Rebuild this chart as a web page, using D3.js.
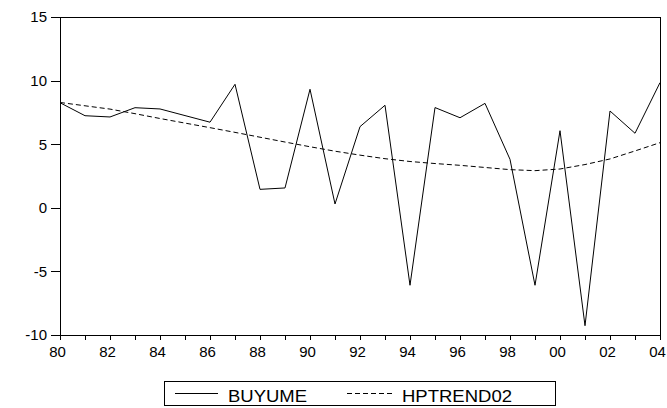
<!DOCTYPE html>
<html>
<head>
<meta charset="utf-8">
<script src="https://cdn.jsdelivr.net/npm/d3@7"></script>
<style>
  html, body { margin: 0; padding: 0; background: #fff; }
  svg { display: block; font-family: "Liberation Sans", Arial, sans-serif; }
</style>
</head>
<body>
<svg id="chart" width="667" height="408"></svg>
<script>
const years = d3.range(1980, 2005);
const buyume = [8.26, 7.24, 7.14, 7.87, 7.77, 7.25, 6.73, 9.71, 1.45, 1.56, 9.32, 0.30, 6.38, 8.06, -6.09, 7.88, 7.08, 8.21, 3.81, -6.09, 6.06, -9.27, 7.61, 5.86, 9.84];
const hptrend = [8.28, 8.02, 7.76, 7.40, 7.02, 6.66, 6.30, 5.93, 5.55, 5.17, 4.80, 4.45, 4.14, 3.86, 3.64, 3.48, 3.34, 3.17, 3.00, 2.92, 3.05, 3.40, 3.84, 4.47, 5.12];
const yTicks = [-10, -5, 0, 5, 10, 15];
const seriesNames = ["BUYUME", "HPTREND02"];

(function () {
const svg = d3.select("#chart");
const pLeft = 60, pRight = 660, pTop = 17, pBottom = 335;

const x = d3.scaleLinear().domain([1980, 2004]).range([pLeft, pRight]);
const y = d3.scaleLinear().domain([-10, 15]).range([pBottom, pTop]);

// frame
svg.append("rect")
  .attr("x", pLeft).attr("y", pTop)
  .attr("width", pRight - pLeft).attr("height", pBottom - pTop)
  .attr("fill", "none").attr("stroke", "#000").attr("stroke-width", 1)
  .attr("shape-rendering", "crispEdges");

// x axis
const xAxis = d3.axisBottom(x)
  .tickValues(years)
  .tickSize(5)
  .tickPadding(6)
  .tickFormat(d => (d % 2 === 0) ? String(d % 100).padStart(2, "0") : "");
const gx = svg.append("g").attr("transform", `translate(0,${pBottom})`).call(xAxis);
gx.select(".domain").remove();
gx.selectAll("line").attr("stroke", "#000").attr("shape-rendering", "crispEdges");
gx.selectAll("text").attr("font-size", 15).attr("fill", "#000").attr("dx", -3)
  .attr("font-family", "'Liberation Sans', Arial, sans-serif");

// y axis
const yAxis = d3.axisLeft(y).tickValues(yTicks).tickSize(9).tickPadding(4).tickFormat(d => String(d));
const gy = svg.append("g").attr("transform", `translate(${pLeft},0)`).call(yAxis);
gy.select(".domain").remove();
gy.selectAll("line").attr("stroke", "#000").attr("shape-rendering", "crispEdges");
gy.selectAll("text").attr("font-size", 15).attr("fill", "#000")
  .attr("font-family", "'Liberation Sans', Arial, sans-serif");

// lines
const line = d3.line().x((d, i) => x(years[i])).y(d => y(d));
svg.append("path").datum(buyume).attr("d", line)
  .attr("fill", "none").attr("stroke", "#000").attr("stroke-width", 1);
svg.append("path").datum(hptrend).attr("d", line)
  .attr("fill", "none").attr("stroke", "#000").attr("stroke-width", 1)
  .attr("stroke-dasharray", "5,3");

// legend
const lg = svg.append("g");
lg.append("rect").attr("x", 164.5).attr("y", 381.5).attr("width", 391).attr("height", 24)
  .attr("fill", "#fff").attr("stroke", "#000").attr("stroke-width", 1);
lg.append("line").attr("x1", 175).attr("x2", 218).attr("y1", 393.5).attr("y2", 393.5)
  .attr("stroke", "#000").attr("stroke-width", 1);
lg.append("text").attr("x", 228).attr("y", 402).text(seriesNames[0])
  .attr("font-size", 16).attr("textLength", 79).attr("lengthAdjust", "spacingAndGlyphs");
lg.append("line").attr("x1", 347).attr("x2", 395).attr("y1", 393.5).attr("y2", 393.5)
  .attr("stroke", "#000").attr("stroke-width", 1).attr("stroke-dasharray", "5,3");
lg.append("text").attr("x", 402).attr("y", 402).text(seriesNames[1])
  .attr("font-size", 16).attr("textLength", 110).attr("lengthAdjust", "spacingAndGlyphs");
})();
</script>
</body>
</html>
